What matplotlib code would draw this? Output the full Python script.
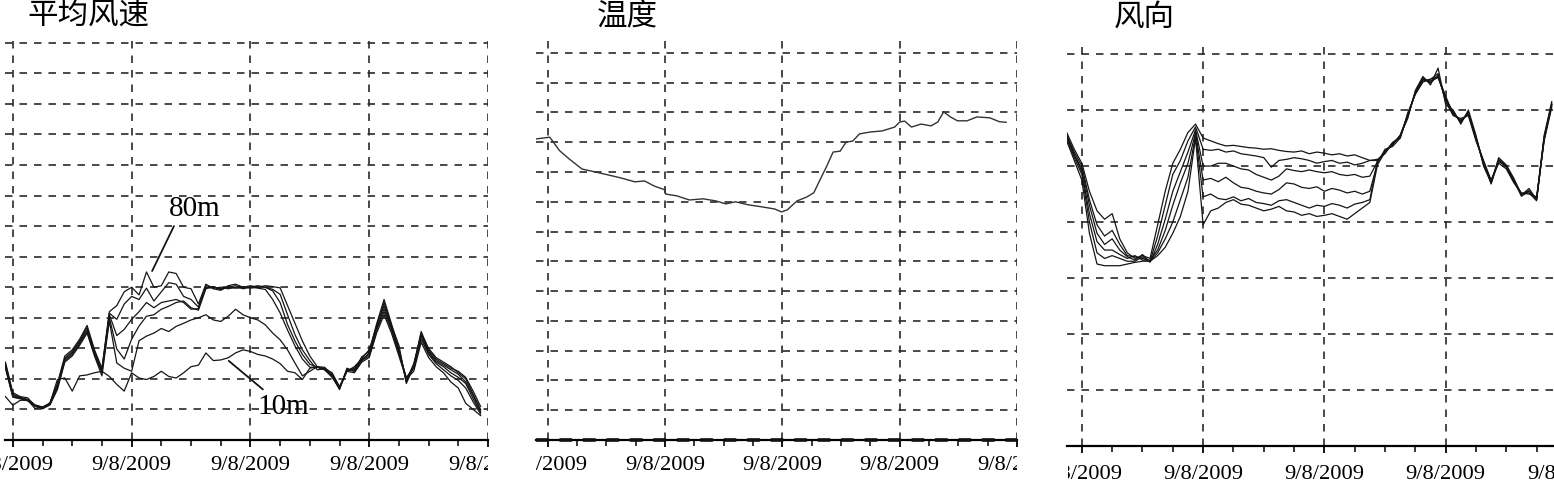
import numpy as np
import matplotlib
matplotlib.use("Agg")
import matplotlib.pyplot as plt
from matplotlib.ticker import MultipleLocator
from matplotlib.transforms import Bbox, TransformedBbox, blended_transform_factory

W, H = 1554, 481

# ---- data (x in hours-ish sample units, ticks every 4) ----
x_major = [0, 4, 8, 12, 16]
x_labels = ["9/8/2009", "9/8/2009", "9/8/2009", "9/8/2009", "9/8/2009"]
titles = ["平均风速", "温度", "风向"]

# mean wind speed, 6 heights
t_ws = np.arange(-0.25, 15.76, 0.25)
ws_80 = [2.55, 1.55, 1.42, 1.38, 1.12, 1.05, 1.22, 1.85, 2.75, 2.95, 3.3, 3.75, 2.95, 2.35, 4.2,
         4.4, 4.85, 5.0, 4.75, 5.5, 5.0, 5.05, 5.5, 5.45, 5.0, 4.95, 4.45, 5.1, 4.95, 4.9, 5.05, 5.1,
         5.0, 5.05, 5.0, 5.05, 5.02, 4.98,
         4.4, 3.82, 3.24, 2.75, 2.4,
         2.38, 2.12, 1.7, 2.3, 2.3, 2.72, 2.9, 3.8, 4.6, 3.8, 3.0, 1.9, 2.45, 3.55, 2.95, 2.65, 2.5,
         2.35, 2.25, 2.05, 1.6, 1.1]
ws_70 = [2.5, 1.5, 1.38, 1.33, 1.15, 1.08, 1.18, 1.78, 2.68, 2.9, 3.25, 3.68, 2.9, 2.3, 4.15,
         3.95, 4.45, 4.7, 4.6, 4.97, 4.55, 4.85, 5.15, 5.1, 4.7, 4.6, 4.35, 5.05, 5.0, 4.95, 5.0, 5.05,
         4.95, 5.0, 5.05, 5.0, 4.93, 4.77,
         4.1, 3.45, 2.95, 2.6, 2.3,
         2.33, 2.08, 1.65, 2.35, 2.25, 2.68, 2.95, 3.7, 4.5, 3.75, 3.1, 1.85, 2.4, 3.5, 3.0, 2.7, 2.55,
         2.4, 2.2, 2.0, 1.5, 1.0]
ws_60 = [2.45, 1.45, 1.4, 1.3, 1.13, 1.06, 1.2, 1.75, 2.65, 2.85, 3.2, 3.6, 2.85, 2.25, 4.1,
         3.42, 3.62, 3.95, 4.2, 4.5, 4.33, 4.5, 4.55, 4.6, 4.5, 4.28, 4.3, 5.0, 4.97, 5.0, 4.95, 5.0,
         5.02, 4.97, 5.0, 5.0, 4.88, 4.5,
         3.78, 3.24, 2.8, 2.48, 2.38,
         2.3, 2.15, 1.72, 2.28, 2.35, 2.6, 2.85, 3.75, 4.4, 3.7, 2.95, 1.95, 2.5, 3.45, 2.9, 2.6, 2.45,
         2.3, 2.15, 1.9, 1.45, 0.95]
ws_50 = [2.4, 1.42, 1.36, 1.32, 1.1, 1.04, 1.16, 1.7, 2.6, 2.8, 3.15, 3.55, 2.8, 2.2, 4.0,
         2.98, 2.65, 3.3, 3.73, 4.05, 4.1, 4.28, 4.38, 4.5, 4.55, 4.33, 4.25, 4.95, 5.02, 4.92, 5.0, 4.97,
         4.98, 5.02, 4.97, 4.93, 4.6, 4.16,
         3.6, 3.08, 2.65, 2.38, 2.38,
         2.35, 2.2, 1.75, 2.25, 2.4, 2.65, 2.8, 3.65, 4.3, 3.65, 2.9, 2.0, 2.4, 3.4, 2.85, 2.55, 2.4,
         2.2, 2.05, 1.85, 1.35, 0.9]
ws_30 = [2.35, 1.4, 1.35, 1.28, 1.12, 1.02, 1.15, 1.65, 2.55, 2.75, 3.1, 3.5, 2.75, 2.1, 3.9,
         2.52, 2.35, 2.25, 3.25, 3.4, 3.5, 3.65, 3.55, 3.72, 3.82, 3.93, 4.0, 4.1, 3.93, 3.88, 4.05, 4.28,
         4.1, 4.0, 3.93, 3.77, 3.5, 3.28,
         2.95, 2.52, 2.1, 2.25, 2.4,
         2.3, 2.05, 1.7, 2.3, 2.25, 2.6, 2.75, 3.6, 4.2, 3.6, 2.85, 2.05, 2.35, 3.3, 2.8, 2.5, 2.3,
         2.1, 1.95, 1.7, 1.25, 0.85]
ws_10 = [1.42, 1.14, 1.3, 1.3, 1.03, 1.08, 1.2, 1.98, 2.03, 1.6, 2.1, 2.13, 2.2, 2.25, 2.08,
         1.82, 1.6, 2.2, 2.03, 1.98, 2.08, 2.25, 2.08, 2.03, 2.2, 2.4, 2.45, 2.85, 2.6, 2.62, 2.69, 2.85,
         2.95, 2.9, 2.8, 2.75, 2.65, 2.5,
         2.25, 2.2, 1.98, 2.35, 2.4,
         2.3, 2.1, 1.68, 2.25, 2.2, 2.55, 2.7, 3.5, 4.1, 3.5, 2.75, 2.0, 2.25, 3.2, 2.7, 2.4, 2.2,
         1.9, 1.7, 1.2, 1.0, 0.8]

# temperature
t_temp = [-0.4, 0.07, 0.4, 0.73, 1.17, 1.63, 2.07, 2.5, 2.97, 3.3, 3.63, 4.0, 4.02, 4.4, 4.83,
          5.3, 5.73, 6.07, 6.4, 6.83, 7.3, 7.73, 7.97, 8.17, 8.5, 8.83, 9.07, 9.3, 9.5, 9.73,
          9.97, 10.17, 10.4, 10.63, 10.97, 11.4, 11.83, 12.0, 12.17, 12.4, 12.73, 13.07, 13.3,
          13.5, 13.73, 13.97, 14.3, 14.63, 15.07, 15.4, 15.63]
temp = [10.11, 10.17, 9.72, 9.44, 9.1, 9.0, 8.9, 8.8, 8.67, 8.7, 8.53, 8.4, 8.26, 8.2, 8.06,
        8.1, 8.03, 7.93, 8.0, 7.9, 7.83, 7.76, 7.66, 7.73, 8.03, 8.16, 8.3, 8.77, 9.17, 9.67,
        9.7, 10.0, 10.04, 10.28, 10.34, 10.38, 10.51, 10.68, 10.71, 10.51, 10.61, 10.55, 10.68,
        11.02, 10.85, 10.72, 10.72, 10.85, 10.82, 10.69, 10.67]

# wind direction, 6 heights
t_wd = np.arange(-0.5, 15.51, 0.25)
wd_1 = [5.6, 5.3, 5.05, 4.55, 4.2, 4.05, 4.15, 3.7, 3.45, 3.35, 3.4, 3.35, 3.95, 4.55, 5.05, 5.3, 5.6, 5.75,
        5.5, 5.45, 5.4, 5.36, 5.37, 5.35, 5.33, 5.32, 5.3, 5.31, 5.28, 5.26, 5.25, 5.27, 5.22, 5.25,
        5.23, 5.2, 5.22, 5.18, 5.2, 5.15, 5.1,
        5.1, 5.25, 5.4, 5.53, 5.9, 6.31, 6.55, 6.5, 6.6, 6.2, 5.95, 5.8, 5.95, 5.5, 5.05, 4.72,
        5.1, 5.0, 4.75, 4.5, 4.55, 4.42, 5.5, 6.1]
wd_2 = [5.55, 5.25, 5.0, 4.4, 3.95, 3.75, 3.85, 3.6, 3.4, 3.38, 3.35, 3.3, 3.75, 4.3, 4.85, 5.1, 5.45, 5.7,
        5.3, 5.28, 5.3, 5.25, 5.27, 5.22, 5.2, 5.18, 5.15, 4.98, 5.1, 5.12, 5.15, 5.13, 5.1, 5.05,
        5.08, 5.1, 5.05, 5.07, 5.02, 5.05, 5.1,
        5.12, 5.22, 5.42, 5.5, 5.95, 6.28, 6.5, 6.55, 6.65, 6.15, 5.9, 5.85, 5.9, 5.45, 5.1, 4.75,
        5.05, 4.95, 4.7, 4.52, 4.5, 4.45, 5.45, 6.05]
wd_3 = [5.55, 5.2, 4.95, 4.3, 3.8, 3.6, 3.7, 3.5, 3.38, 3.32, 3.42, 3.28, 3.6, 4.05, 4.55, 4.9, 5.25, 5.65,
        5.0, 5.0, 5.05, 5.05, 5.0, 4.95, 4.93, 4.85, 4.8, 4.75, 4.82, 4.95, 4.92, 4.9, 4.93, 4.9,
        4.88, 4.9, 4.85, 4.83, 4.85, 4.8, 4.82,
        5.08, 5.27, 5.38, 5.55, 5.85, 6.35, 6.6, 6.45, 6.75, 6.1, 6.0, 5.75, 6.0, 5.55, 5.0, 4.7,
        5.15, 5.02, 4.78, 4.48, 4.6, 4.4, 5.55, 6.15]
wd_4 = [5.5, 5.2, 4.9, 4.15, 3.65, 3.5, 3.5, 3.42, 3.35, 3.4, 3.32, 3.32, 3.5, 3.85, 4.3, 4.7, 5.05, 5.6,
        4.75, 4.78, 4.72, 4.8, 4.7, 4.62, 4.6, 4.55, 4.52, 4.5, 4.58, 4.7, 4.68, 4.62, 4.6, 4.63,
        4.55, 4.6, 4.57, 4.52, 4.55, 4.5, 4.55,
        5.05, 5.3, 5.35, 5.5, 5.92, 6.3, 6.52, 6.55, 6.6, 6.25, 5.92, 5.82, 5.92, 5.5, 5.08, 4.68,
        5.1, 4.98, 4.72, 4.5, 4.52, 4.38, 5.5, 6.08]
wd_5 = [5.5, 5.15, 4.85, 4.0, 3.45, 3.35, 3.4, 3.35, 3.3, 3.3, 3.38, 3.3, 3.45, 3.7, 4.0, 4.4, 4.8, 5.55,
        4.45, 4.5, 4.42, 4.4, 4.45, 4.38, 4.42, 4.35, 4.33, 4.3, 4.38, 4.4, 4.35, 4.3, 4.25, 4.3,
        4.28, 4.33, 4.3, 4.25, 4.32, 4.35, 4.4,
        5.1, 5.25, 5.42, 5.52, 5.88, 6.32, 6.58, 6.48, 6.62, 6.18, 5.97, 5.78, 5.97, 5.48, 5.05, 4.7,
        5.12, 5.0, 4.76, 4.5, 4.56, 4.42, 5.52, 6.1]
wd_6 = [5.45, 5.1, 4.75, 3.8, 3.25, 3.22, 3.22, 3.22, 3.25, 3.28, 3.3, 3.3, 3.4, 3.55, 3.8, 4.1, 4.55, 5.5,
        3.95, 4.2, 4.25, 4.35, 4.4, 4.32, 4.3, 4.25, 4.2, 4.23, 4.28, 4.2, 4.18, 4.12, 4.15, 4.1,
        4.12, 4.15, 4.1, 4.05, 4.15, 4.25, 4.35,
        5.02, 5.25, 5.38, 5.55, 5.9, 6.3, 6.55, 6.52, 6.58, 6.22, 5.93, 5.8, 5.95, 5.52, 5.03, 4.74,
        5.08, 5.0, 4.74, 4.46, 4.55, 4.4, 5.48, 6.12]

LINE = "#151515"
GRID = "#2a2a2a"
SERIF = "Liberation Serif"

fig = plt.figure(figsize=(W / 100, H / 100), dpi=100)


def px_axes(left, right, top, bottom):
    return fig.add_axes([left / W, (H - bottom) / H, (right - left) / W, (bottom - top) / H])


def style(ax, ygrid, clip, label_y):
    for s in ["top", "right", "left"]:
        ax.spines[s].set_visible(False)
    ax.spines["bottom"].set_linewidth(1.6)
    ax.set_xticks(x_major)
    ax.xaxis.set_minor_locator(MultipleLocator(1))
    ax.set_yticks(ygrid)
    ax.tick_params(axis="x", which="major", length=5, width=1.3, labelbottom=False)
    ax.tick_params(axis="x", which="minor", length=4, width=1.1)
    ax.tick_params(axis="y", length=0, labelleft=False)
    ax.grid(True, which="major", color=GRID, lw=1.2, linestyle=(0, (4.5, 4.2)))
    ax.set_axisbelow(True)
    # date labels, cut at the panel borders like the scanned figure
    box = TransformedBbox(Bbox.from_extents(clip[0] / W, 0, clip[1] / W, 1), fig.transFigure)
    trans = blended_transform_factory(ax.transData, ax.transAxes)
    for xv, lab in zip(x_major, x_labels):
        t = fig.text(xv, label_y, lab, transform=trans, ha="center", va="baseline",
                     fontsize=16.2, family=SERIF)
        t.set_clip_on(True)
        t.set_clip_box(box)


# panel 1: mean wind speed
ax1 = px_axes(5, 488, 42, 441)
for s in [ws_10, ws_30, ws_50, ws_60, ws_70, ws_80]:
    ax1.plot(t_ws, s, color=LINE, lw=0.9)
ax1.set_xlim(-0.264, 15.70)
ax1.set_ylim(0, 13.06)
style(ax1, list(range(1, 14)), (0, 488), -0.0727)
ax1.annotate("80m", xy=(4.69, 5.53), xytext=(6.12, 7.6), ha="center", va="center",
             fontsize=21, family=SERIF,
             arrowprops=dict(arrowstyle="-", color=LINE, lw=1.3, relpos=(0.15, 0.0),
                             shrinkA=2, shrinkB=0))
ax1.annotate("10m", xy=(7.27, 2.59), xytext=(9.09, 1.11), ha="center", va="center",
             fontsize=21, family=SERIF,
             arrowprops=dict(arrowstyle="-", color=LINE, lw=1.3, relpos=(0.2, 1.0),
                             shrinkA=1, shrinkB=0))

# panel 2: temperature
ax2 = px_axes(536, 1017, 42, 441)
ax2.plot(t_temp, temp, color="#333333", lw=1.0)
ax2.set_xlim(-0.4, 15.63)
ax2.set_ylim(0, 13.4)
style(ax2, list(range(0, 14)), (536, 1017), -0.0727)
ax2.axhline(0, color="#111111", lw=2.6, linestyle=(0, (3.5, 3.0)), zorder=3, clip_on=False)

# panel 3: wind direction
ax3 = px_axes(1067, 1576, 45, 447)
for s in [wd_6, wd_5, wd_4, wd_3, wd_2, wd_1]:
    ax3.plot(t_wd, s, color=LINE, lw=0.9)
ax3.set_xlim(-0.49, 16.3)
ax3.set_ylim(0, 7.18)
style(ax3, list(range(1, 8)), (1068, 1554), -0.0796)

# panel titles
cjk = ["Noto Sans CJK SC", "DejaVu Sans"]
fig.text(88 / W, (H - 16) / H, titles[0], ha="center", va="center", fontsize=22, family=cjk)
fig.text(627 / W, (H - 16) / H, titles[1], ha="center", va="center", fontsize=22, family=cjk)
fig.text(1144 / W, (H - 17) / H, titles[2], ha="center", va="center", fontsize=22, family=cjk)

fig.savefig("out.png", dpi=100, facecolor="white")
